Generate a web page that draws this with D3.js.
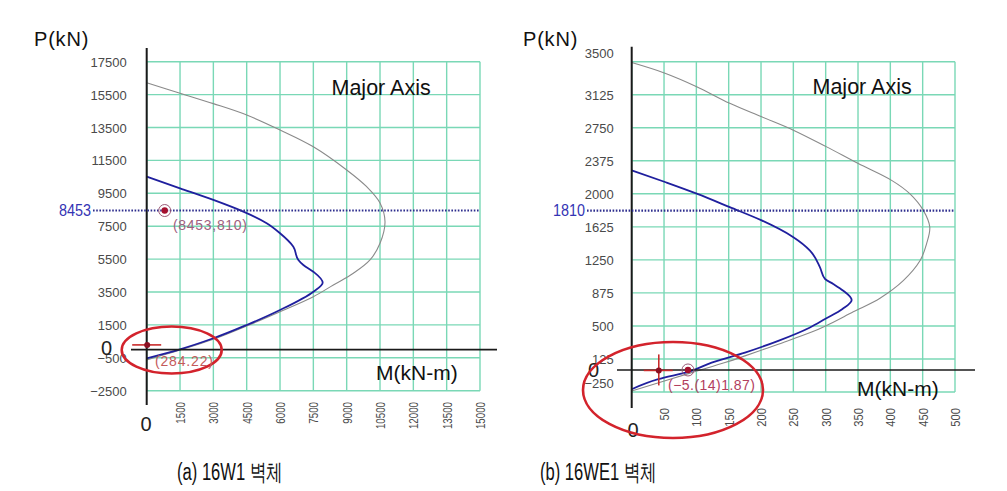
<!DOCTYPE html>
<html><head><meta charset="utf-8">
<script src="https://cdn.jsdelivr.net/npm/d3@7"></script>
<style>
body{margin:0;background:#fff;}
svg{display:block;}
text{font-family:"Liberation Sans",Arial,sans-serif;}
</style>
</head><body>
<svg id="chart" width="1007" height="491"></svg>
<script>
// ---------------- DATA ----------------
// (a) 16W1
const leftMTicks = [1500,3000,4500,6000,7500,9000,10500,12000,13500,15000];
const leftPTicks = [17500,15500,13500,11500,9500,7500,5500,3500,1500,-500,-2500];
const leftNominalM = [0,1500,3000,4500,6000,7500,9000,9900,10500,10725,10500,10050,9300,8400,7500,6000,4500,3000,1500,0];
const leftNominalP = [16220,15580,14950,14260,13350,12330,10920,9900,8910,7775,6462,5447,4638,3927,3216,2304,1435,626,-30,-632];
const leftDesignM = [0,1500,3000,4350,5400,6000,6600,6825,7050,7500,7920,7500,6000,4500,3000,1500,0];
const leftDesignP = [10510,9805,9095,8383,7678,7070,6255,5447,5143,4735,4067,3520,2407,1495,687,18,-529];
const leftLoadP = 8453;
const leftPoint = [810, 8453];     // [M, P]
const leftCross = [22, 284];       // [M, P]
const leftPointLabel = "(8453,810)";
const leftCrossLabel = "(284.22)";

// (b) 16WE1
const rightMTicks = [50,100,150,200,250,300,350,400,450,500];
const rightPTicks = [3500,3125,2750,2375,2000,1625,1250,875,500,125,-250];
const rightNominalM = [0,51.5,100.5,151.6,201,250,301.5,350.4,402,430,451,461,456,446,420,384,342.7,301.5,278.3,226.7,175.2,144.3,92.8,0];
const rightNominalP = [3490,3369,3216,3027,2874,2723,2533,2344,2153,2002,1812,1622,1432,1242,1014,815,660,505,430,293,160,84,-30,-239];
const rightDesignM = [0,51.5,100.5,151.6,201,250,275.7,291.2,298.9,311.7,327.2,340.2,326,299,275,226.7,175.2,123.7,87.5,41.1,0];
const rightDesignP = [2267,2134,2002,1849,1698,1508,1356,1166,1034,977,900,795,692,578,480,331,198,84,-22,-105,-219];
const rightLoadP = 1810;
const rightPoint = [87, 0];
const rightCross = [41.87, -5];
const rightPointLabel = "(\u22125.(14)1.87)";

const axisTitleP = "P(kN)";
const axisTitleM = "M(kN-m)";
const panelTitle = "Major Axis";
const captions = ["(a) 16W1 \ubcbd\uccb4", "(b) 16WE1 \ubcbd\uccb4"];

// ---------------- DRAW ----------------
const svg = d3.select("#chart");
const GRID = "#7ad8b6", BLUE = "#1f1f9e", GRAY = "#8a8a8a", DOT = "#2e2e8e", RED = "#d3232c";

function panel(cfg) {
  const g = svg.append("g");
  const x = d3.scaleLinear().domain(cfg.xDomain).range(cfg.xRange);
  const y = d3.scaleLinear().domain(cfg.yDomain).range(cfg.yRange);
  const x0 = x(0), y0 = y(0);
  const gTop = y(cfg.yDomain[1]), gBot = y(cfg.yDomain[0]), gRight = x(cfg.xDomain[1]);

  // grid
  g.append("g").selectAll("line").data([0].concat(cfg.mTicks)).join("line")
    .attr("x1", d => x(d)).attr("x2", d => x(d)).attr("y1", gTop).attr("y2", gBot)
    .attr("stroke", GRID).attr("stroke-width", 1.4);
  g.append("g").selectAll("line").data(cfg.pTicks).join("line")
    .attr("x1", x0).attr("x2", gRight).attr("y1", d => y(d)).attr("y2", d => y(d))
    .attr("stroke", GRID).attr("stroke-width", 1.4);

  // y tick labels
  const ya = g.append("g").attr("transform", `translate(${x0},0)`)
    .call(d3.axisLeft(y).tickValues(cfg.pTicks).tickSize(0).tickPadding(cfg.yPad).tickFormat(d3.format("d")));
  ya.select(".domain").remove();
  ya.selectAll("text").attr("font-size", 13).attr("fill", "#4a4a4a")
    .attr("font-family", "Liberation Sans, Arial, sans-serif")
    .attr("dy", d => (cfg.labelShift[d] || 0) + 4.5);

  // x tick labels (rotated)
  const xa = g.append("g").attr("transform", `translate(0,${cfg.xLabelTop})`)
    .call(d3.axisBottom(x).tickValues(cfg.mTicks).tickSize(0).tickFormat(d3.format("d")));
  xa.select(".domain").remove();
  xa.selectAll("text").attr("font-size", cfg.xFont).attr("fill", "#4a4a4a")
    .attr("font-family", "Liberation Sans, Arial, sans-serif")
    .attr("text-anchor", "end").attr("x", 0).attr("y", 0).attr("dy", "0.35em")
    .attr("transform", `rotate(-90) scale(${cfg.xScaleText},1)`);

  // curves
  const nominal = cfg.nomM.map((m, i) => [m, cfg.nomP[i]]);
  const design = cfg.desM.map((m, i) => [m, cfg.desP[i]]);
  g.append("path").attr("d", d3.line().x(d => x(d[0])).y(d => y(d[1])).curve(d3.curveCatmullRom.alpha(0.5))(nominal))
    .attr("fill", "none").attr("stroke", GRAY).attr("stroke-width", 1.1);
  g.append("path").attr("d", d3.line().x(d => x(d[0])).y(d => y(d[1])).curve(d3.curveMonotoneY)(design))
    .attr("fill", "none").attr("stroke", BLUE).attr("stroke-width", 1.8);

  // axes lines
  g.append("line").attr("x1", x0).attr("x2", x0).attr("y1", cfg.yAxisTop).attr("y2", cfg.yAxisBot)
    .attr("stroke", "#1a1a1a").attr("stroke-width", 2);
  g.append("line").attr("x1", cfg.xAxisLeft).attr("x2", cfg.xAxisRight).attr("y1", y0).attr("y2", y0)
    .attr("stroke", "#1a1a1a").attr("stroke-width", 1.6);

  // dotted load line
  const yl = y(cfg.loadP);
  g.append("line").attr("x1", cfg.dotStart).attr("x2", gRight).attr("y1", yl).attr("y2", yl)
    .attr("stroke", DOT).attr("stroke-width", 2.2).attr("stroke-dasharray", "1.6,1.6");
  g.append("text").attr("x", cfg.dotStart - 2).attr("y", yl + 5.5).attr("text-anchor", "end")
    .attr("font-size", 16).attr("fill", "#3434b4").attr("textLength", 32).attr("lengthAdjust", "spacingAndGlyphs")
    .text(cfg.loadP);

  // titles
  g.append("text").attr("x", cfg.pTitle[0]).attr("y", cfg.pTitle[1]).attr("font-size", 20)
    .attr("fill", "#111").attr("letter-spacing", 0.8).text(axisTitleP);
  g.append("text").attr("x", cfg.mTitle[0]).attr("y", cfg.mTitle[1]).attr("font-size", 21)
    .attr("fill", "#111").text(axisTitleM);
  g.append("text").attr("x", cfg.major[0]).attr("y", cfg.major[1]).attr("font-size", 21.5)
    .attr("fill", "#111").text(panelTitle);

  // zero labels
  g.append("text").attr("x", cfg.zeroY[0]).attr("y", cfg.zeroY[1]).attr("font-size", 20)
    .attr("fill", "#222").text("0");
  g.append("text").attr("x", cfg.zeroX[0]).attr("y", cfg.zeroX[1]).attr("font-size", 20)
    .attr("text-anchor", "middle").attr("fill", "#222").text("0");

  // red ellipse
  g.append("ellipse").attr("cx", cfg.ell[0]).attr("cy", cfg.ell[1]).attr("rx", cfg.ell[2]).attr("ry", cfg.ell[3])
    .attr("transform", `rotate(${cfg.ell[4]},${cfg.ell[0]},${cfg.ell[1]})`)
    .attr("fill", "none").attr("stroke", RED).attr("stroke-width", 2.6);

  // cross marker
  const cx = x(cfg.cross[0]), cy = y(cfg.cross[1]);
  g.append("line").attr("x1", cx - 15).attr("x2", cx + 14).attr("y1", cy).attr("y2", cy)
    .attr("stroke", "#c82a2a").attr("stroke-width", 1.6);
  if (cfg.crossV) g.append("line").attr("x1", cx).attr("x2", cx).attr("y1", cy - 16).attr("y2", cy + 15)
    .attr("stroke", "#c82a2a").attr("stroke-width", 1.6);
  g.append("circle").attr("cx", cx).attr("cy", cy).attr("r", 3).attr("fill", "#8b0f22");

  // ring marker
  const px = x(cfg.point[0]), py = y(cfg.point[1]);
  g.append("circle").attr("cx", px).attr("cy", py).attr("r", 6).attr("fill", "none")
    .attr("stroke", "#9a5a78").attr("stroke-width", 1);
  g.append("circle").attr("cx", px).attr("cy", py).attr("r", 3.2).attr("fill", "#a5102e");

  // value labels
  cfg.labels.forEach(l => {
    g.append("text").attr("x", l.x).attr("y", l.y).attr("font-size", 14).attr("fill", l.c)
      .attr("textLength", l.w).attr("lengthAdjust", "spacing").text(l.t);
  });

  // caption
  g.append("text").attr("x", cfg.cap[0]).attr("y", cfg.cap[1]).attr("font-size", 23)
    .attr("font-family", "Noto Sans CJK KR, sans-serif").attr("fill", "#111")
    .attr("textLength", cfg.cap[2]).attr("lengthAdjust", "spacingAndGlyphs").text(cfg.capText);

  return {x, y};
}

panel({
  xDomain: [0, 15000], xRange: [146.7, 480],
  yDomain: [-2500, 17500], yRange: [390.7, 61.7],
  mTicks: leftMTicks, pTicks: leftPTicks,
  yPad: 20, labelShift: {}, xLabelTop: 402, xFont: 12.5, xScaleText: 0.78,
  nomM: leftNominalM, nomP: leftNominalP, desM: leftDesignM, desP: leftDesignP,
  yAxisTop: 48, yAxisBot: 405, xAxisLeft: 131, xAxisRight: 497,
  loadP: leftLoadP, dotStart: 93,
  pTitle: [34, 46], mTitle: [376, 380], major: [331.5, 95],
  zeroY: [101, 355], zeroX: [146, 431],
  ell: [171.7, 350, 50, 23.5, 0],
  cross: leftCross, crossV: false, point: leftPoint,
  labels: [
    {x: 173, y: 230, t: leftPointLabel, c: "#a0607e", w: 74},
    {x: 155, y: 366, t: leftCrossLabel, c: "#c45a5a", w: 58}
  ],
  cap: [177, 480, 106], capText: captions[0]
});

panel({
  xDomain: [0, 500], xRange: [631.7, 955],
  yDomain: [-250, 3500], yRange: [392, 61.7],
  mTicks: rightMTicks, pTicks: rightPTicks,
  yPad: 18, labelShift: {"3500": -9, "-250": -9}, xLabelTop: 408, xFont: 12.5, xScaleText: 0.9,
  nomM: rightNominalM, nomP: rightNominalP, desM: rightDesignM, desP: rightDesignP,
  yAxisTop: 46.7, yAxisBot: 408, xAxisLeft: 617, xAxisRight: 975,
  loadP: rightLoadP, dotStart: 587,
  pTitle: [523, 46], mTitle: [857, 396], major: [812.5, 93.5],
  zeroY: [588, 377], zeroX: [633, 437],
  ell: [673, 390, 90, 48, 0],
  cross: rightCross, crossV: true, point: rightPoint,
  labels: [
    {x: 668, y: 390, t: rightPointLabel, c: "#b2405e", w: 87}
  ],
  cap: [540, 480, 117], capText: captions[1]
});
</script>
</body></html>
